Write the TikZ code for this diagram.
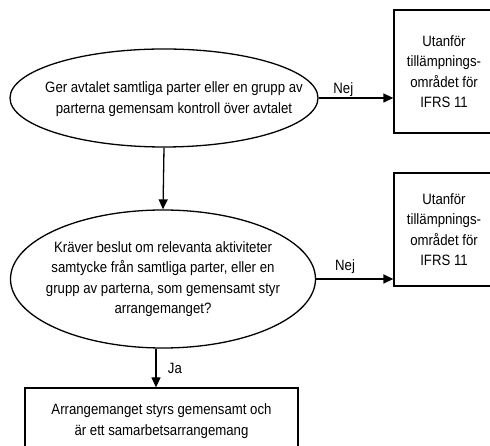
\documentclass[tikz,border=0pt]{standalone}
\usepackage{fontspec}
\setmainfont{Liberation Sans}[FakeStretch=0.88]
\usetikzlibrary{arrows.meta}
\usetikzlibrary{shapes.geometric}

\tikzset{
question/.style={draw,ellipse,line width=1.3pt,inner sep=0pt},
outcome/.style={draw,rectangle,line width=1.3pt,align=center},
flow/.style={line width=1.3pt,-{Triangle[length=10pt,width=9pt]}},
}

\begin{document}
\begin{tikzpicture}[x=1pt,y=1pt,font=\fontsize{15}{20.5}\selectfont]
\useasboundingbox (0,0) rectangle (490,446);
\clip (0,0) rectangle (490,446);

\node[question,minimum width=308pt,minimum height=98pt] (q1) at (164,348) {};
\node[align=center] (q1text) at ([xshift=10pt,yshift=-1pt]q1.center) {Ger avtalet samtliga parter eller en grupp av\\parterna gemensam kontroll över avtalet};
\node[question,minimum width=305pt,minimum height=138pt] (q2) at (163,167) {};
\node[align=center] (q2text) at (q2.center) {Kräver beslut om relevanta aktiviteter\\samtycke från samtliga parter, eller en\\grupp av parterna, som gemensamt styr\\arrangemanget?};

\node[outcome,minimum width=100pt,minimum height=123pt] (out1) at (444,374.5) {Utanför\\tillämpnings-\\området för\\IFRS 11};
\node[outcome,minimum width=100pt,minimum height=113pt] (out2) at (444,216.5) {Utanför\\tillämpnings-\\området för\\IFRS 11};
\node[outcome,minimum width=273pt,minimum height=66pt] (joint) at (161.5,25) {Arrangemanget styrs gemensamt och\\är ett samarbetsarrangemang};

\draw[flow] (q1.east) -- node[above=1pt,inner sep=0pt,pos=0.33] (nej1) {Nej} (q1.east -| out1.west);
\draw[flow] (q2.east) -- node[above=5pt,inner sep=0pt,pos=0.375] (nej2) {Nej} (q2.east -| out2.west);
\draw[flow] (q1.south) -- (q2.north);
\draw[flow] ([xshift=-7pt]q2.south) -- node[right=8pt] (ja) {Ja} ([xshift=-7pt]q2.south |- joint.north);

\end{tikzpicture}
\end{document}
